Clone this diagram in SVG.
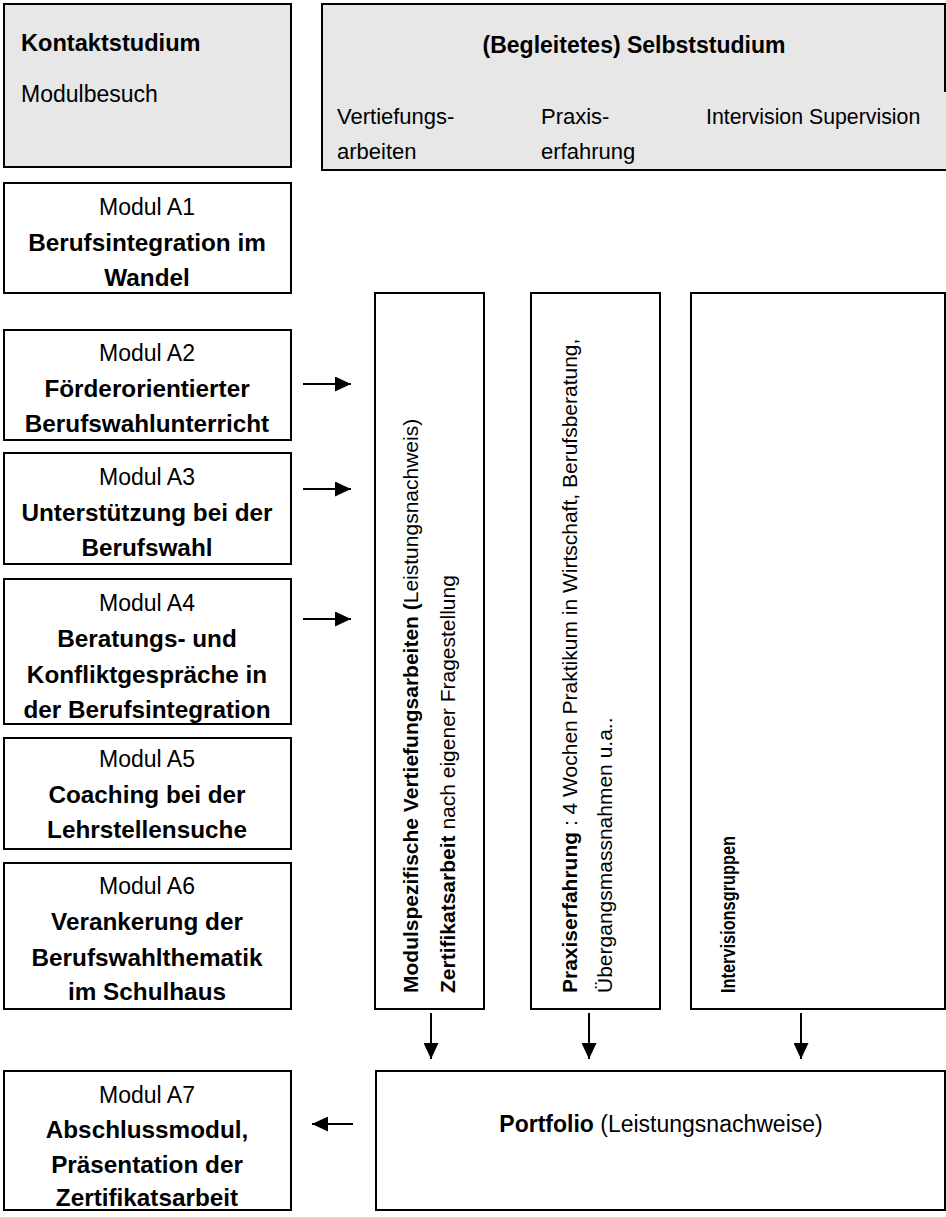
<svg xmlns="http://www.w3.org/2000/svg" width="946" height="1217" viewBox="0 0 946 1217">
<defs>
<marker id="ah" markerUnits="userSpaceOnUse" markerWidth="16" markerHeight="15" refX="16" refY="7.5" orient="auto">
<path d="M0,0 L16,7.5 L0,15 z" fill="#000"/>
</marker>
<style>
.hdr{fill:#e7e7e7;stroke:#000;stroke-width:2}
.box{fill:#fff;stroke:#000;stroke-width:2}
.t{font-family:"Liberation Sans",Arial,sans-serif;font-size:22px;fill:#000}
.m{font-family:"Liberation Sans",Arial,sans-serif;font-size:23px;fill:#000;text-anchor:middle}
.mb{font-family:"Liberation Sans",Arial,sans-serif;font-size:24.3px;font-weight:bold;fill:#000;text-anchor:middle}
.b{font-weight:bold}
.v{font-family:"Liberation Sans",Arial,sans-serif;font-size:21px;fill:#000}
.c{stroke:#000;stroke-width:2;fill:none;marker-end:url(#ah)}
</style>
</defs>
<rect width="946" height="1217" fill="#fff"/>

<g id="kontaktstudium">
<rect class="hdr" x="4" y="4" width="287" height="163"/>
<text class="t b" x="21" y="51" style="font-size:23.6px">Kontaktstudium</text>
<text class="t" x="21" y="102" style="font-size:23px">Modulbesuch</text>
</g>

<g id="selbststudium">
<rect class="hdr" x="322" y="4" width="630" height="166"/>
<line x1="945" y1="4" x2="945" y2="92" stroke="#000" stroke-width="2"/>
<text class="t b" x="634" y="53" text-anchor="middle" style="font-size:23px">(Begleitetes) Selbststudium</text>
<text class="t" x="337" y="124">Vertiefungs-</text>
<text class="t" x="337" y="159">arbeiten</text>
<text class="t" x="541" y="124">Praxis-</text>
<text class="t" x="541" y="159">erfahrung</text>
<text class="t" x="706" y="124" style="font-size:21.3px">Intervision Supervision</text>
</g>

<g id="modulA1">
<rect class="box" x="4" y="183" width="287" height="110"/>
<text class="m" x="147" y="215">Modul A1</text>
<text class="mb" x="147" y="251">Berufsintegration im</text>
<text class="mb" x="147" y="286">Wandel</text>
</g>

<g id="modulA2">
<rect class="box" x="4" y="330" width="287" height="110"/>
<text class="m" x="147" y="361">Modul A2</text>
<text class="mb" x="147" y="397">Förderorientierter</text>
<text class="mb" x="147" y="432">Berufswahlunterricht</text>
</g>

<g id="modulA3">
<rect class="box" x="4" y="453" width="287" height="111"/>
<text class="m" x="147" y="485">Modul A3</text>
<text class="mb" x="147" y="521">Unterstützung bei der</text>
<text class="mb" x="147" y="556">Berufswahl</text>
</g>

<g id="modulA4">
<rect class="box" x="4" y="579" width="287" height="145"/>
<text class="m" x="147" y="611">Modul A4</text>
<text class="mb" x="147" y="647">Beratungs- und</text>
<text class="mb" x="147" y="683">Konfliktgespräche in</text>
<text class="mb" x="147" y="718">der Berufsintegration</text>
</g>

<g id="modulA5">
<rect class="box" x="4" y="738" width="287" height="111"/>
<text class="m" x="147" y="767">Modul A5</text>
<text class="mb" x="147" y="803">Coaching bei der</text>
<text class="mb" x="147" y="838">Lehrstellensuche</text>
</g>

<g id="modulA6">
<rect class="box" x="4" y="863" width="287" height="146"/>
<text class="m" x="147" y="894">Modul A6</text>
<text class="mb" x="147" y="930">Verankerung der</text>
<text class="mb" x="147" y="966">Berufswahlthematik</text>
<text class="mb" x="147" y="1000">im Schulhaus</text>
</g>

<g id="vertiefung">
<rect class="box" x="375" y="293" width="109" height="716"/>
<text class="v" transform="translate(418,993) rotate(-90)"><tspan class="b">Modulspezifische Vertiefungsarbeiten (</tspan>Leistungsnachweis)</text>
<text class="v" transform="translate(455,993) rotate(-90)"><tspan class="b">Zertifikatsarbeit</tspan> nach eigener Fragestellung</text>
</g>

<g id="praxis">
<rect class="box" x="531" y="293" width="129" height="716"/>
<text class="v" transform="translate(577,993) rotate(-90)"><tspan class="b">Praxiserfahrung</tspan> : 4 Wochen  Praktikum in Wirtschaft, Berufsberatung,</text>
<text class="v" transform="translate(612,993) rotate(-90)">Übergangsmassnahmen u.a..</text>
</g>

<g id="intervision">
<rect class="box" x="691" y="293" width="254" height="716"/>
<text class="v b" transform="translate(735,993) rotate(-90)" style="font-size:20px" textLength="157" lengthAdjust="spacingAndGlyphs">Intervisionsgruppen</text>
</g>

<g id="modulA7">
<rect class="box" x="4" y="1071" width="287" height="139"/>
<text class="m" x="147" y="1103">Modul A7</text>
<text class="mb" x="147" y="1138">Abschlussmodul,</text>
<text class="mb" x="147" y="1173">Präsentation der</text>
<text class="mb" x="147" y="1206">Zertifikatsarbeit</text>
</g>

<g id="portfolio">
<rect class="box" x="376" y="1071" width="569" height="139"/>
<text class="m" x="661" y="1132"><tspan class="b">Portfolio</tspan> (Leistungsnachweise)</text>
</g>

<g id="connectors">
<line class="c" x1="303" y1="384" x2="351" y2="384"/>
<line class="c" x1="303" y1="489" x2="351" y2="489"/>
<line class="c" x1="303" y1="619" x2="351" y2="619"/>
<line class="c" x1="431" y1="1013" x2="431" y2="1059"/>
<line class="c" x1="589" y1="1013" x2="589" y2="1059"/>
<line class="c" x1="801" y1="1013" x2="801" y2="1059"/>
<line class="c" x1="353" y1="1124" x2="312" y2="1124"/>
</g>
</svg>
